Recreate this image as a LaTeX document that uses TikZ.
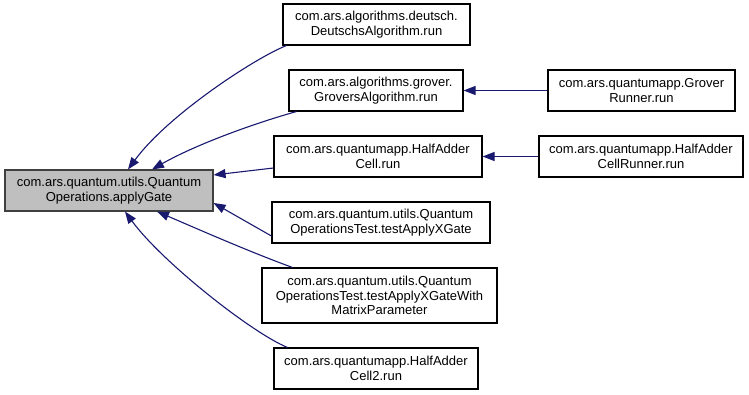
\documentclass[tikz,border=0pt]{standalone}
\usepackage{fontspec}
\setmainfont{Liberation Sans}
\usetikzlibrary{arrows.meta}
\definecolor{edgeblue}{HTML}{191970}
\definecolor{focusfill}{HTML}{BFBFBF}
\definecolor{focusline}{HTML}{404040}
\begin{document}
\begin{tikzpicture}[x=1pt,y=-1pt,
  fn/.style={draw=black, fill=white, line width=1.1pt, inner sep=0pt,
    minimum height=41pt, align=center,
    font=\fontsize{13}{14.5}\selectfont},
  focus/.style={fn, fill=focusfill, draw=focusline},
  call/.style={draw=edgeblue, line width=1.1pt,
    -{Triangle[length=12pt,width=9pt]}}]
\useasboundingbox (0,0) rectangle (749,395);

% functions
\node[focus, minimum width=208pt] (main) at (109,190.5)
  {com.ars.quantum.utils.Quantum\\Operations.applyGate};
\node[fn, minimum width=187pt] (deutsch) at (376.5,24.5)
  {com.ars.algorithms.deutsch.\\DeutschsAlgorithm.run};
\node[fn, minimum width=174pt] (grovers) at (376,90.5)
  {com.ars.algorithms.grover.\\GroversAlgorithm.run};
\node[fn, minimum width=187pt] (grunner) at (641.5,90.5)
  {com.ars.quantumapp.Grover\\Runner.run};
\node[fn, minimum width=208pt] (hac) at (378,156.5)
  {com.ars.quantumapp.HalfAdder\\Cell.run};
\node[fn, minimum width=204pt] (hacrunner) at (641,156.5)
  {com.ars.quantumapp.HalfAdder\\CellRunner.run};
\node[fn, minimum width=218pt] (xgate) at (381,222.5)
  {com.ars.quantum.utils.Quantum\\OperationsTest.testApplyXGate};
\node[fn, minimum width=235pt, minimum height=55pt] (matrix) at (379.5,295.5)
  {com.ars.quantum.utils.Quantum\\OperationsTest.testApplyXGateWith\\MatrixParameter};
\node[fn, minimum width=204pt] (cell2) at (376,368.5)
  {com.ars.quantumapp.HalfAdder\\Cell2.run};

% calls
\draw[call] ([xshift=4pt]deutsch.south west)
  .. controls (255,58) and (168,115) .. ([xshift=19pt]main.north);
\draw[call] ([xshift=8pt]grovers.south west)
  .. controls (252,124) and (195,145) .. ([xshift=43pt]main.north);
\draw[call] ([yshift=-11.5pt]hac.west) -- ([yshift=15.5pt]main.east);
\draw[call] ([yshift=-13.5pt]xgate.west) -- ([yshift=-12.5pt]main.east);
\draw[call] ([xshift=31pt]matrix.north west)
  .. controls (250,252) and (200,230) .. ([xshift=48pt]main.south);
\draw[call] ([xshift=14pt]cell2.north west)
  .. controls (252,333) and (162,262) .. ([xshift=16pt]main.south);
\draw[call] (grunner.west) -- (grovers.east);
\draw[call] (hacrunner.west) -- (hac.east);
\end{tikzpicture}
\end{document}
